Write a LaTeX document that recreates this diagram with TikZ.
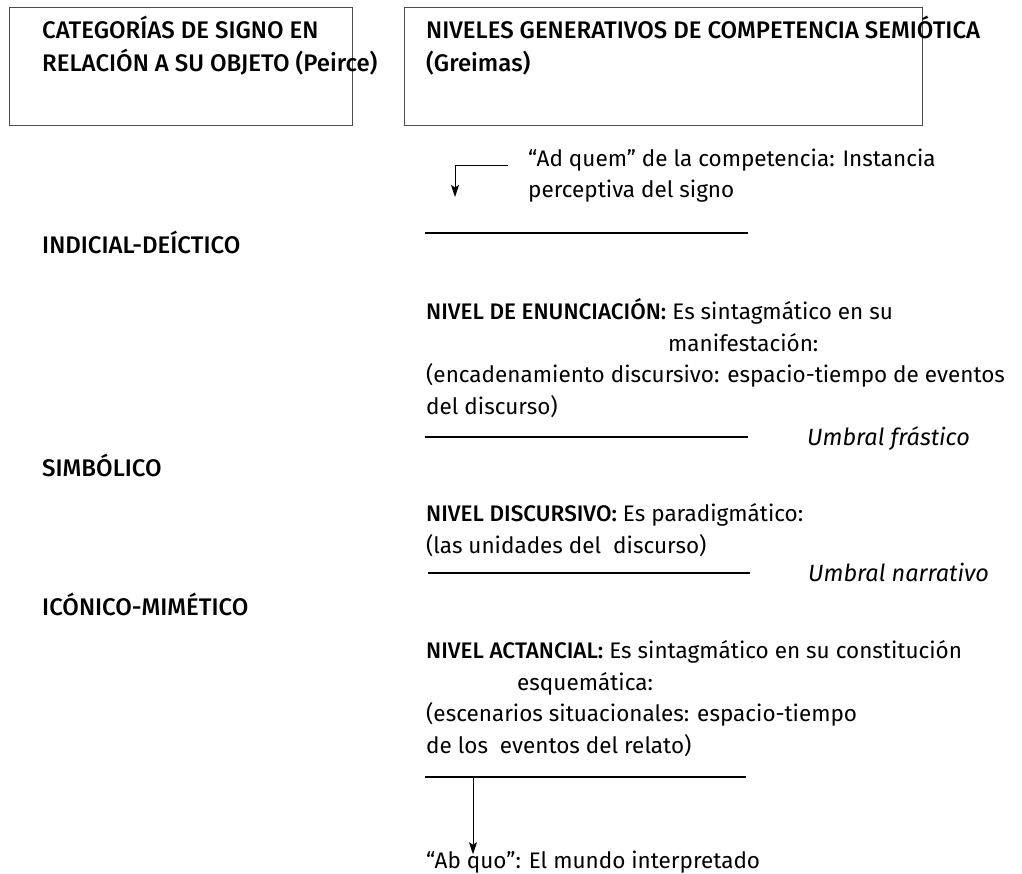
\documentclass[tikz,border=0pt]{standalone}
\usepackage{fontspec}
\setmainfont{Fira Sans}[BoldFont={Fira Sans Medium}]
\usetikzlibrary{arrows.meta}
\tikzset{
  txt/.style={anchor=base west, inner sep=0pt, align=left,
    font=\fontsize{22.5}{31.5}\selectfont},
  titulo/.style={txt, font=\fontsize{24}{33}\selectfont\bfseries},
  categoria/.style={txt, font=\fontsize{24}{33}\selectfont\bfseries},
  umbraltxt/.style={txt, font=\fontsize{23.5}{31.5}\selectfont\itshape},
  umbral/.style={draw=black, line width=1.6pt},
  caja/.style={draw=black!70, line width=0.8pt},
  flecha/.style={-{Stealth[length=12pt,width=8pt,inset=2.5pt]}, line width=1pt},
}
\begin{document}
\begin{tikzpicture}[x=1pt,y=-1pt]
        \useasboundingbox (0,0) rectangle (1022,874);

        % Cajas de encabezado
        \draw[caja] (9,7) rectangle (352,125);
        \draw[caja] (404,7) rectangle (922,125);
        \node[titulo] (peirce) at (42,72) {CATEGORÍAS DE SIGNO EN\\RELACIÓN A SU OBJETO (Peirce)};
        \node[titulo] (greimas) at (426,72) {NIVELES GENERATIVOS DE COMPETENCIA SEMIÓTICA\\(Greimas)};

        % Categorias de signo
        \node[categoria] (indicial) at (42,254) {INDICIAL-DEÍCTICO};
        \node[categoria] (simbolico) at (42,476) {SIMBÓLICO};
        \node[categoria] (iconico) at (42,615) {ICÓNICO-MIMÉTICO};

        % Niveles
        \node[txt] (adquem) at (528,198) {“Ad quem” de la competencia: Instancia\\perceptiva del signo};
        \node[txt] (enunciacion) at (426,414) {\textbf{NIVEL DE ENUNCIACIÓN:} Es sintagmático en su\\
          \hspace*{242pt}manifestación:\\
          (encadenamiento discursivo: espacio-tiempo de eventos\\
          del discurso)};
        \node[txt] (discursivo) at (426,553) {\textbf{NIVEL DISCURSIVO:} Es paradigmático:\\
          (las unidades del\ \ discurso)};
        \node[txt] (actancial) at (426,753) {\textbf{NIVEL ACTANCIAL:} Es sintagmático en su constitución\\
          \hspace*{91pt}esquemática:\\
          (escenarios situacionales: espacio-tiempo\\
          de los\ \ eventos del relato)};
        \node[txt] (abquo) at (426,868) {“Ab quo”: El mundo interpretado};

        % Umbrales
        \draw[umbral] (425,233) -- (748,233);
        \draw[umbral] (425,437) -- (748,437);
        \node[umbraltxt] (frastico) at (807,445) {Umbral frástico};
        \draw[umbral] (428,573) -- (750,573);
        \node[umbraltxt] (narrativo) at (808,581) {Umbral narrativo};
        \draw[umbral] (425,777) coordinate (salida) -- (746,777);

        % Flechas
        \coordinate (llegada) at (455,197);
        \draw[flecha] ([xshift=-20pt]adquem.north west |- 0,166) -| (llegada);
        \draw[flecha] ([xshift=48pt]salida) -- ([xshift=48pt,yshift=-4pt]salida |- abquo.north);
\end{tikzpicture}
\end{document}
